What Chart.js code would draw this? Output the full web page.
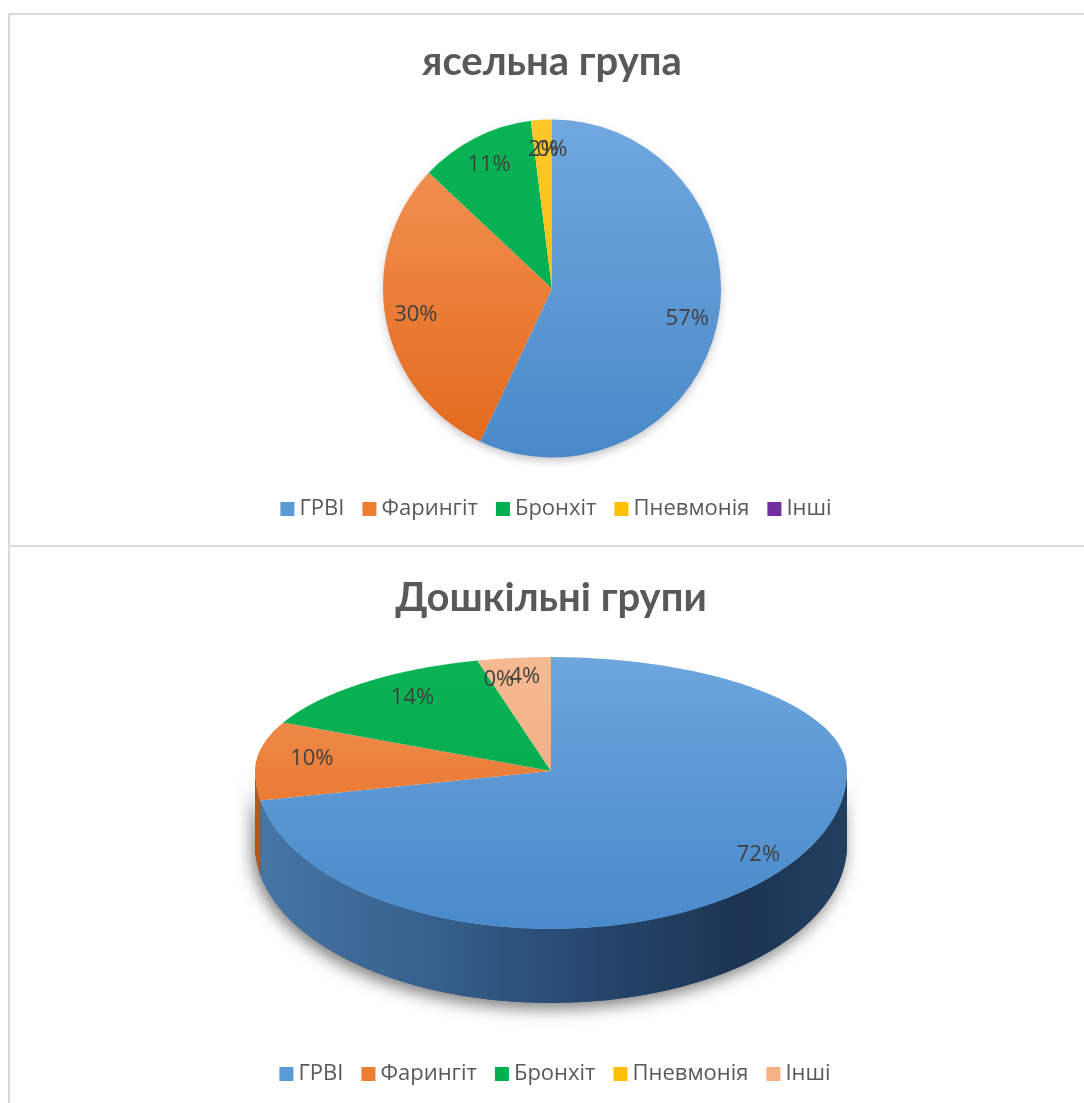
<!DOCTYPE html>
<html><head><meta charset="utf-8">
<script src="https://cdn.jsdelivr.net/npm/chart.js@4.4.0/dist/chart.umd.min.js"></script>
<style>
html,body{margin:0;padding:0;background:#fff;}
body{width:1084px;height:1103px;position:relative;overflow:hidden;}
.ln{position:absolute;background:#d9d9d9;}
#c1{position:absolute;left:10px;top:15px;}
#c2{position:absolute;left:10px;top:547px;}
</style></head><body>
<div class="ln" style="left:8px;top:13px;width:2px;height:1090px"></div>
<div class="ln" style="left:8px;top:13px;width:1076px;height:2px"></div>
<div class="ln" style="left:8px;top:545px;width:1076px;height:2px"></div>
<canvas id="c1" width="1074" height="530"></canvas>
<canvas id="c2" width="1074" height="556"></canvas>
<script>
const categories = ['ГРВІ', 'Фарингіт', 'Бронхіт', 'Пневмонія', 'Інші'];
const nurseryTitle = 'ясельна група';
const nurseryValues = [57, 30, 11, 2, 0];
const preschoolTitle = 'Дошкільні групи';
const preschoolValues = [72, 10, 14, 0, 4];

const nurseryColors = ['#5B9BD5', '#ED7D31', '#00B050', '#FFC000', '#7030A0'];
const preschoolColors = ['#5B9BD5', '#ED7D31', '#00B050', '#FFC000', '#F4B183'];
const nurseryShades = [['#70A8DF', '#4A89C9'], ['#F49659', '#E2681A'], ['#0AB455', '#00A84B'], ['#FFC82A', '#F6B800'], ['#7B3AAB', '#652A93']];
const preschoolShades = [['#6EA6DE', '#4A8BCB'], ['#F4965B', '#E2691A'], ['#0AB455', '#00A84B'], ['#FFC82A', '#F6B800'], ['#F6BA92', '#EFA778']];

const FONT = '"Open Sans", "DejaVu Sans", sans-serif';
const TITLE_FONT = 'Lato, "Open Sans", sans-serif';

function faceColors(shades, R) {
  return (c) => {
    const i = c.dataIndex || 0;
    const ca = c.chart.chartArea;
    if (!ca) return shades[i][0];
    const cy = (ca.top + ca.bottom) / 2;
    const g = c.chart.ctx.createLinearGradient(0, cy - R, 0, cy + R);
    g.addColorStop(0, shades[i][0]);
    g.addColorStop(1, shades[i][1]);
    return g;
  };
}

const legendShift = {
  id: 'legendShift',
  afterLayout(chart, args, o) {
    if (chart.legend) { chart.legend.left += o.dx; chart.legend.right += o.dx; }
  }
};

const projPlugin = {
  id: 'proj',
  beforeDatasetsDraw(chart, args, o) {
    const ctx = chart.ctx, meta = chart.getDatasetMeta(0), e0 = meta.data[0];
    const cx = e0.x, cy = e0.y, R = e0.outerRadius;
    if (o.mode !== '3d') {
      ctx.save();
      ctx.shadowColor = 'rgba(0,0,0,0.25)'; ctx.shadowBlur = 10; ctx.shadowOffsetY = 4;
      ctx.fillStyle = '#ffffff';
      ctx.beginPath(); ctx.arc(cx, cy, R - 1, 0, Math.PI * 2); ctx.fill();
      ctx.restore();
      return;
    }
    const ay = o.anchorY, d = o.depth;
    ctx.save();
    ctx.shadowColor = 'rgba(0,0,0,0.5)'; ctx.shadowBlur = 16; ctx.shadowOffsetY = 6; ctx.shadowOffsetX = -3;
    ctx.fillStyle = '#24446A';
    ctx.beginPath();
    ctx.ellipse(cx, ay, R, o.near, 0, 0, Math.PI);
    ctx.ellipse(cx, ay + d, R, o.near, 0, Math.PI, 0, true);
    ctx.closePath(); ctx.fill();
    ctx.restore();
    meta.data.forEach((el, i) => {
      const a = Math.max(el.startAngle, 0), b = Math.min(el.endAngle, Math.PI);
      if (b <= a) return;
      ctx.save();
      if (i === 0) {
        const g = ctx.createLinearGradient(cx - R, 0, cx + R, 0);
        g.addColorStop(0, '#4676A7');
        g.addColorStop(0.3, '#36608D');
        g.addColorStop(0.6, '#24446A');
        g.addColorStop(0.82, '#1C3452');
        g.addColorStop(1, '#223F60');
        ctx.fillStyle = g;
      } else {
        ctx.fillStyle = o.wallColors[i];
      }
      ctx.beginPath();
      ctx.ellipse(cx, ay, R, o.near, 0, a, b);
      ctx.ellipse(cx, ay + d, R, o.near, 0, b, a, true);
      ctx.closePath(); ctx.fill();
      ctx.restore();
    });
    ctx.save();
    ctx.beginPath(); ctx.rect(0, 0, chart.width, ay); ctx.clip();
    ctx.translate(cx, ay); ctx.scale(1, o.far / R); ctx.translate(-cx, -cy);
  },
  afterDatasetsDraw(chart, args, o) {
    if (o.mode !== '3d') return;
    const ctx = chart.ctx, meta = chart.getDatasetMeta(0), e0 = meta.data[0];
    const cx = e0.x, cy = e0.y, R = e0.outerRadius, ay = o.anchorY;
    ctx.restore();
    ctx.save();
    ctx.beginPath(); ctx.rect(0, ay, chart.width, chart.height - ay); ctx.clip();
    ctx.translate(cx, ay); ctx.scale(1, o.near / R); ctx.translate(-cx, -cy);
    meta.data.forEach(el => el.draw(ctx, chart.chartArea));
    ctx.restore();
  }
};

const pctPlugin = {
  id: 'pct',
  afterDraw(chart, args, o) {
    const ctx = chart.ctx, meta = chart.getDatasetMeta(0);
    const data = chart.data.datasets[0].data;
    const sum = data.reduce((a, b) => a + b, 0);
    const p = chart.options.plugins.proj;
    ctx.save();
    ctx.font = o.font; ctx.fillStyle = o.color; ctx.textAlign = 'center'; ctx.textBaseline = 'middle';
    meta.data.forEach((el, i) => {
      const m = (el.startAngle + el.endAngle) / 2;
      const c = Math.cos(m), s = Math.sin(m);
      let x, y;
      if (p.mode === '3d') {
        x = el.x + c * el.outerRadius * o.k * (1 + p.persp * s);
        y = p.anchorY + s * o.k * (s < 0 ? p.far : p.near);
      } else {
        x = el.x + c * el.outerRadius * o.k;
        y = el.y + s * el.outerRadius * o.k;
      }
      ctx.fillText(Math.round(data[i] / sum * 100) + '%', x, y);
    });
    ctx.restore();
  }
};

function legendLabels(colors) {
  return {
    usePointStyle: true, pointStyle: 'rect',
    boxWidth: 2, boxHeight: 14, padding: 24, color: '#595959',
    font: { family: FONT, size: 22 },
    generateLabels: () => categories.map((t, i) => ({
      text: t, fillStyle: colors[i], strokeStyle: 'rgba(0,0,0,0)', lineWidth: 0,
      pointStyle: 'rect', rotation: 0,
      hidden: false, index: i, fontColor: '#595959'
    }))
  };
}

function makeChart(id, title, values, colors, shades, R, opts) {
  return new Chart(document.getElementById(id), {
    type: 'pie',
    data: {
      labels: categories,
      datasets: [{
        data: values, radius: R, borderWidth: 0, clip: false,
        backgroundColor: faceColors(shades, R)
      }]
    },
    options: {
      responsive: false, animation: false, devicePixelRatio: 1,
      layout: { padding: opts.padding },
      plugins: {
        title: {
          display: true, text: title, color: '#595959',
          font: { family: TITLE_FONT, size: 40, weight: 'bold', lineHeight: 1.2 },
          padding: opts.titlePadding
        },
        legend: { position: 'bottom', labels: legendLabels(colors) },
        tooltip: { enabled: false },
        legendShift: { dx: 7 },
        proj: opts.proj,
        pct: { font: '22px ' + FONT, color: '#404040', k: opts.k }
      }
    },
    plugins: [legendShift, projPlugin, pctPlugin]
  });
}

makeChart('c1', nurseryTitle, nurseryValues, nurseryColors, nurseryShades, 169, {
  padding: { left: 10, right: 0, top: 0, bottom: 15 },
  titlePadding: { top: 23, bottom: 17 },
  proj: { mode: 'flat' },
  k: 0.82
});

makeChart('c2', preschoolTitle, preschoolValues, preschoolColors, preschoolShades, 296, {
  padding: { left: 8, right: 0, top: 0, bottom: 8 },
  titlePadding: { top: 27, bottom: 6 },
  proj: { mode: '3d', anchorY: 224, far: 114, near: 158, depth: 74, persp: 0.15,
          wallColors: ['#2E5580', '#B05A1E', '#00803A', '#C09000', '#C08860'] },
  k: 0.83
});
</script>
</body></html>
